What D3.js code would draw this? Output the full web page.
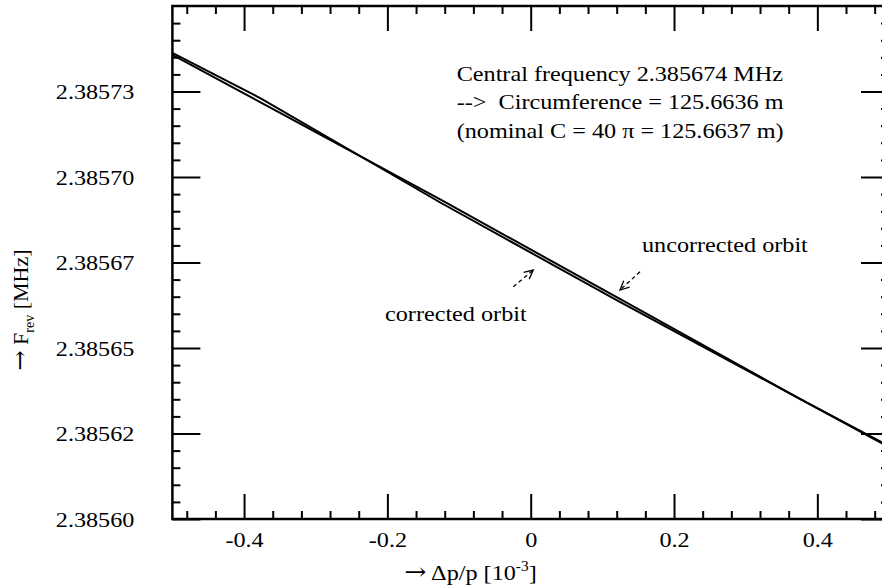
<!DOCTYPE html>
<html>
<head>
<meta charset="utf-8">
<script src="https://cdn.jsdelivr.net/npm/d3@7"></script>
<style>
  body { margin: 0; background: #fff; }
  svg { display: block; }
  text { font-family: "Liberation Serif", "Times New Roman", serif; fill: #000; }
</style>
</head>
<body>
<div id="chart"></div>
<script>
// momentum deviation [10^-3]
var dp = [-0.5, -0.375, -0.125, 0.125, 0.375, 0.5];
// revolution frequency [MHz]
var fUncorrected = [2.3857357, 2.3857216, 2.3856933, 2.3856643, 2.3856352, 2.3856213];
var fCorrected   = [2.3857363, 2.3857228, 2.3856924, 2.3856634, 2.3856352, 2.3856210];

var xTicks = [-0.4, -0.2, 0, 0.2, 0.4];
var xTickLabels = ["-0.4", "-0.2", "0", "0.2", "0.4"];
var yTicks = [2.3856, 2.385625, 2.38565, 2.385675, 2.3857, 2.385725];
var yTickLabels = ["2.38560", "2.38562", "2.38565", "2.38567", "2.38570", "2.38573"];

var infoLines = [
  "Central frequency 2.385674 MHz",
  "-->  Circumference = 125.6636 m",
  "(nominal C = 40 \u03c0 = 125.6637 m)"
];

function init(){
    var W = 882, H = 588;
    var left = 172.4, right = 889, top = 6, bottom = 519;
    var fs = 22, sx = 1.1;   // text is a bit stretched horizontally
    var serif = "Liberation Serif, Times New Roman, serif";

    var xScale = d3.scaleLinear().domain([-0.5, 0.5]).range([left, right]);
    var yScale = d3.scaleLinear().domain([2.3856, 2.38575]).range([bottom, top]);

    var xMinor = d3.range(-0.48, 0.5, 0.04).filter(function(v){ return Math.abs(v*5 - Math.round(v*5)) > 1e-6; });
    var yMinor = d3.range(0, 31).map(function(i){ return 2.3856 + i*0.000005; })
      .filter(function(v, i){ return i % 5 != 0; });

    var svg = d3.select("#chart").append("svg")
      .attr("width", W).attr("height", H)
      .attr("font-family", serif);

    svg.append("defs").append("clipPath").attr("id", "clip")
      .append("rect").attr("x", left).attr("y", top)
      .attr("width", right - left).attr("height", bottom - top);

    // ticks on all four sides, pointing inwards
    function ticks(axis, tr){
        var g = svg.append("g").attr("transform", tr).call(axis);
        g.attr("font-family", serif);
        g.select(".domain").remove();
        g.selectAll("line").attr("stroke", "#000").attr("stroke-width", 2);
        return g;
    }
    ticks(d3.axisBottom(xScale).tickValues(xMinor).tickSize(-8).tickFormat(""), "translate(0," + bottom + ")");
    ticks(d3.axisTop(xScale).tickValues(xMinor).tickSize(-8).tickFormat(""), "translate(0," + top + ")");
    ticks(d3.axisTop(xScale).tickValues(xTicks).tickSize(-25).tickFormat(""), "translate(0," + top + ")");
    ticks(d3.axisLeft(yScale).tickValues(yMinor).tickSize(-8).tickFormat(""), "translate(" + left + ",0)");
    ticks(d3.axisRight(yScale).tickValues(yMinor).tickSize(-8).tickFormat(""), "translate(" + right + ",0)");
    ticks(d3.axisRight(yScale).tickValues(yTicks).tickSize(-28).tickFormat(""), "translate(" + right + ",0)");

    var gx = ticks(d3.axisBottom(xScale).tickValues(xTicks).tickSize(-25)
        .tickFormat(function(d, i){ return xTickLabels[i]; }), "translate(0," + bottom + ")");
    gx.selectAll("text")
      .attr("y", 28).attr("dy", 0)
      .attr("font-size", fs)
      .attr("transform", "scale(" + sx + ",1)");

    var gy = ticks(d3.axisLeft(yScale).tickValues(yTicks).tickSize(-28)
        .tickFormat(function(d, i){ return yTickLabels[i]; }), "translate(" + left + ",0)");
    gy.selectAll("text")
      .attr("x", -38 / sx).attr("dy", "0.32em")
      .attr("font-size", fs)
      .attr("transform", "scale(" + sx + ",1)");

    // frame
    svg.append("rect")
      .attr("x", left).attr("y", top)
      .attr("width", right - left).attr("height", bottom - top)
      .attr("fill", "none").attr("stroke", "#000").attr("stroke-width", 2.5);

    // the two orbits
    var line = d3.line()
      .x(function(d, i){ return xScale(dp[i]); })
      .y(function(d){ return yScale(d); });

    var plot = svg.append("g").attr("clip-path", "url(#clip)");
    [fUncorrected, fCorrected].forEach(function(s){
        plot.append("path")
          .attr("d", line(s))
          .attr("fill", "none")
          .attr("stroke", "#000")
          .attr("stroke-width", 2);
    });

    // info block
    infoLines.forEach(function(t, i){
        svg.append("text")
          .attr("transform", "translate(456.7," + (80.7 + i*28.5) + ") scale(" + sx + ",1)")
          .attr("font-size", fs)
          .style("white-space", "pre")
          .text(t);
    });

    // orbit labels and dashed arrows
    svg.append("text")
      .attr("transform", "translate(385,321) scale(" + sx + ",1)")
      .attr("font-size", fs).text("corrected orbit");
    svg.append("text")
      .attr("transform", "translate(642,252) scale(" + sx + ",1)")
      .attr("font-size", fs).text("uncorrected orbit");

    function arrow(x1, y1, x2, y2){
        var a = Math.atan2(y2 - y1, x2 - x1), L = 10, s = 0.45;
        svg.append("line")
          .attr("x1", x1).attr("y1", y1).attr("x2", x2).attr("y2", y2)
          .attr("stroke", "#000").attr("stroke-width", 1.3)
          .attr("stroke-dasharray", "4,3");
        svg.append("path")
          .attr("d", "M" + (x2 - L*Math.cos(a - s)) + "," + (y2 - L*Math.sin(a - s)) +
                     "L" + x2 + "," + y2 +
                     "L" + (x2 - L*Math.cos(a + s)) + "," + (y2 - L*Math.sin(a + s)))
          .attr("fill", "none").attr("stroke", "#000").attr("stroke-width", 1.3);
    }
    arrow(513.3, 286.7, 533.3, 270);
    arrow(640, 271.7, 620, 290);

    // axis titles
    var xl = svg.append("text")
      .attr("transform", "translate(470.5,580) scale(" + sx + ",1)")
      .attr("font-size", fs).attr("text-anchor", "middle");
    xl.append("tspan").attr("font-family", "DejaVu Serif").attr("font-size", 24).text("\u2192");
    xl.append("tspan").text(" \u0394p/p [10");
    xl.append("tspan").attr("font-size", 14).attr("dy", -9).text("-3");
    xl.append("tspan").attr("dy", 9).text("]");

    var yl = svg.append("text")
      .attr("transform", "translate(28,310) rotate(-90)")
      .attr("font-size", fs).attr("text-anchor", "middle");
    yl.append("tspan").attr("font-family", "DejaVu Serif").attr("font-size", 24).text("\u2192");
    yl.append("tspan").text(" F");
    yl.append("tspan").attr("font-size", 14).attr("dy", 6).text("rev");
    yl.append("tspan").attr("dy", -6).text(" [MHz]");
}

window.onload = init;
</script>
</body>
</html>
